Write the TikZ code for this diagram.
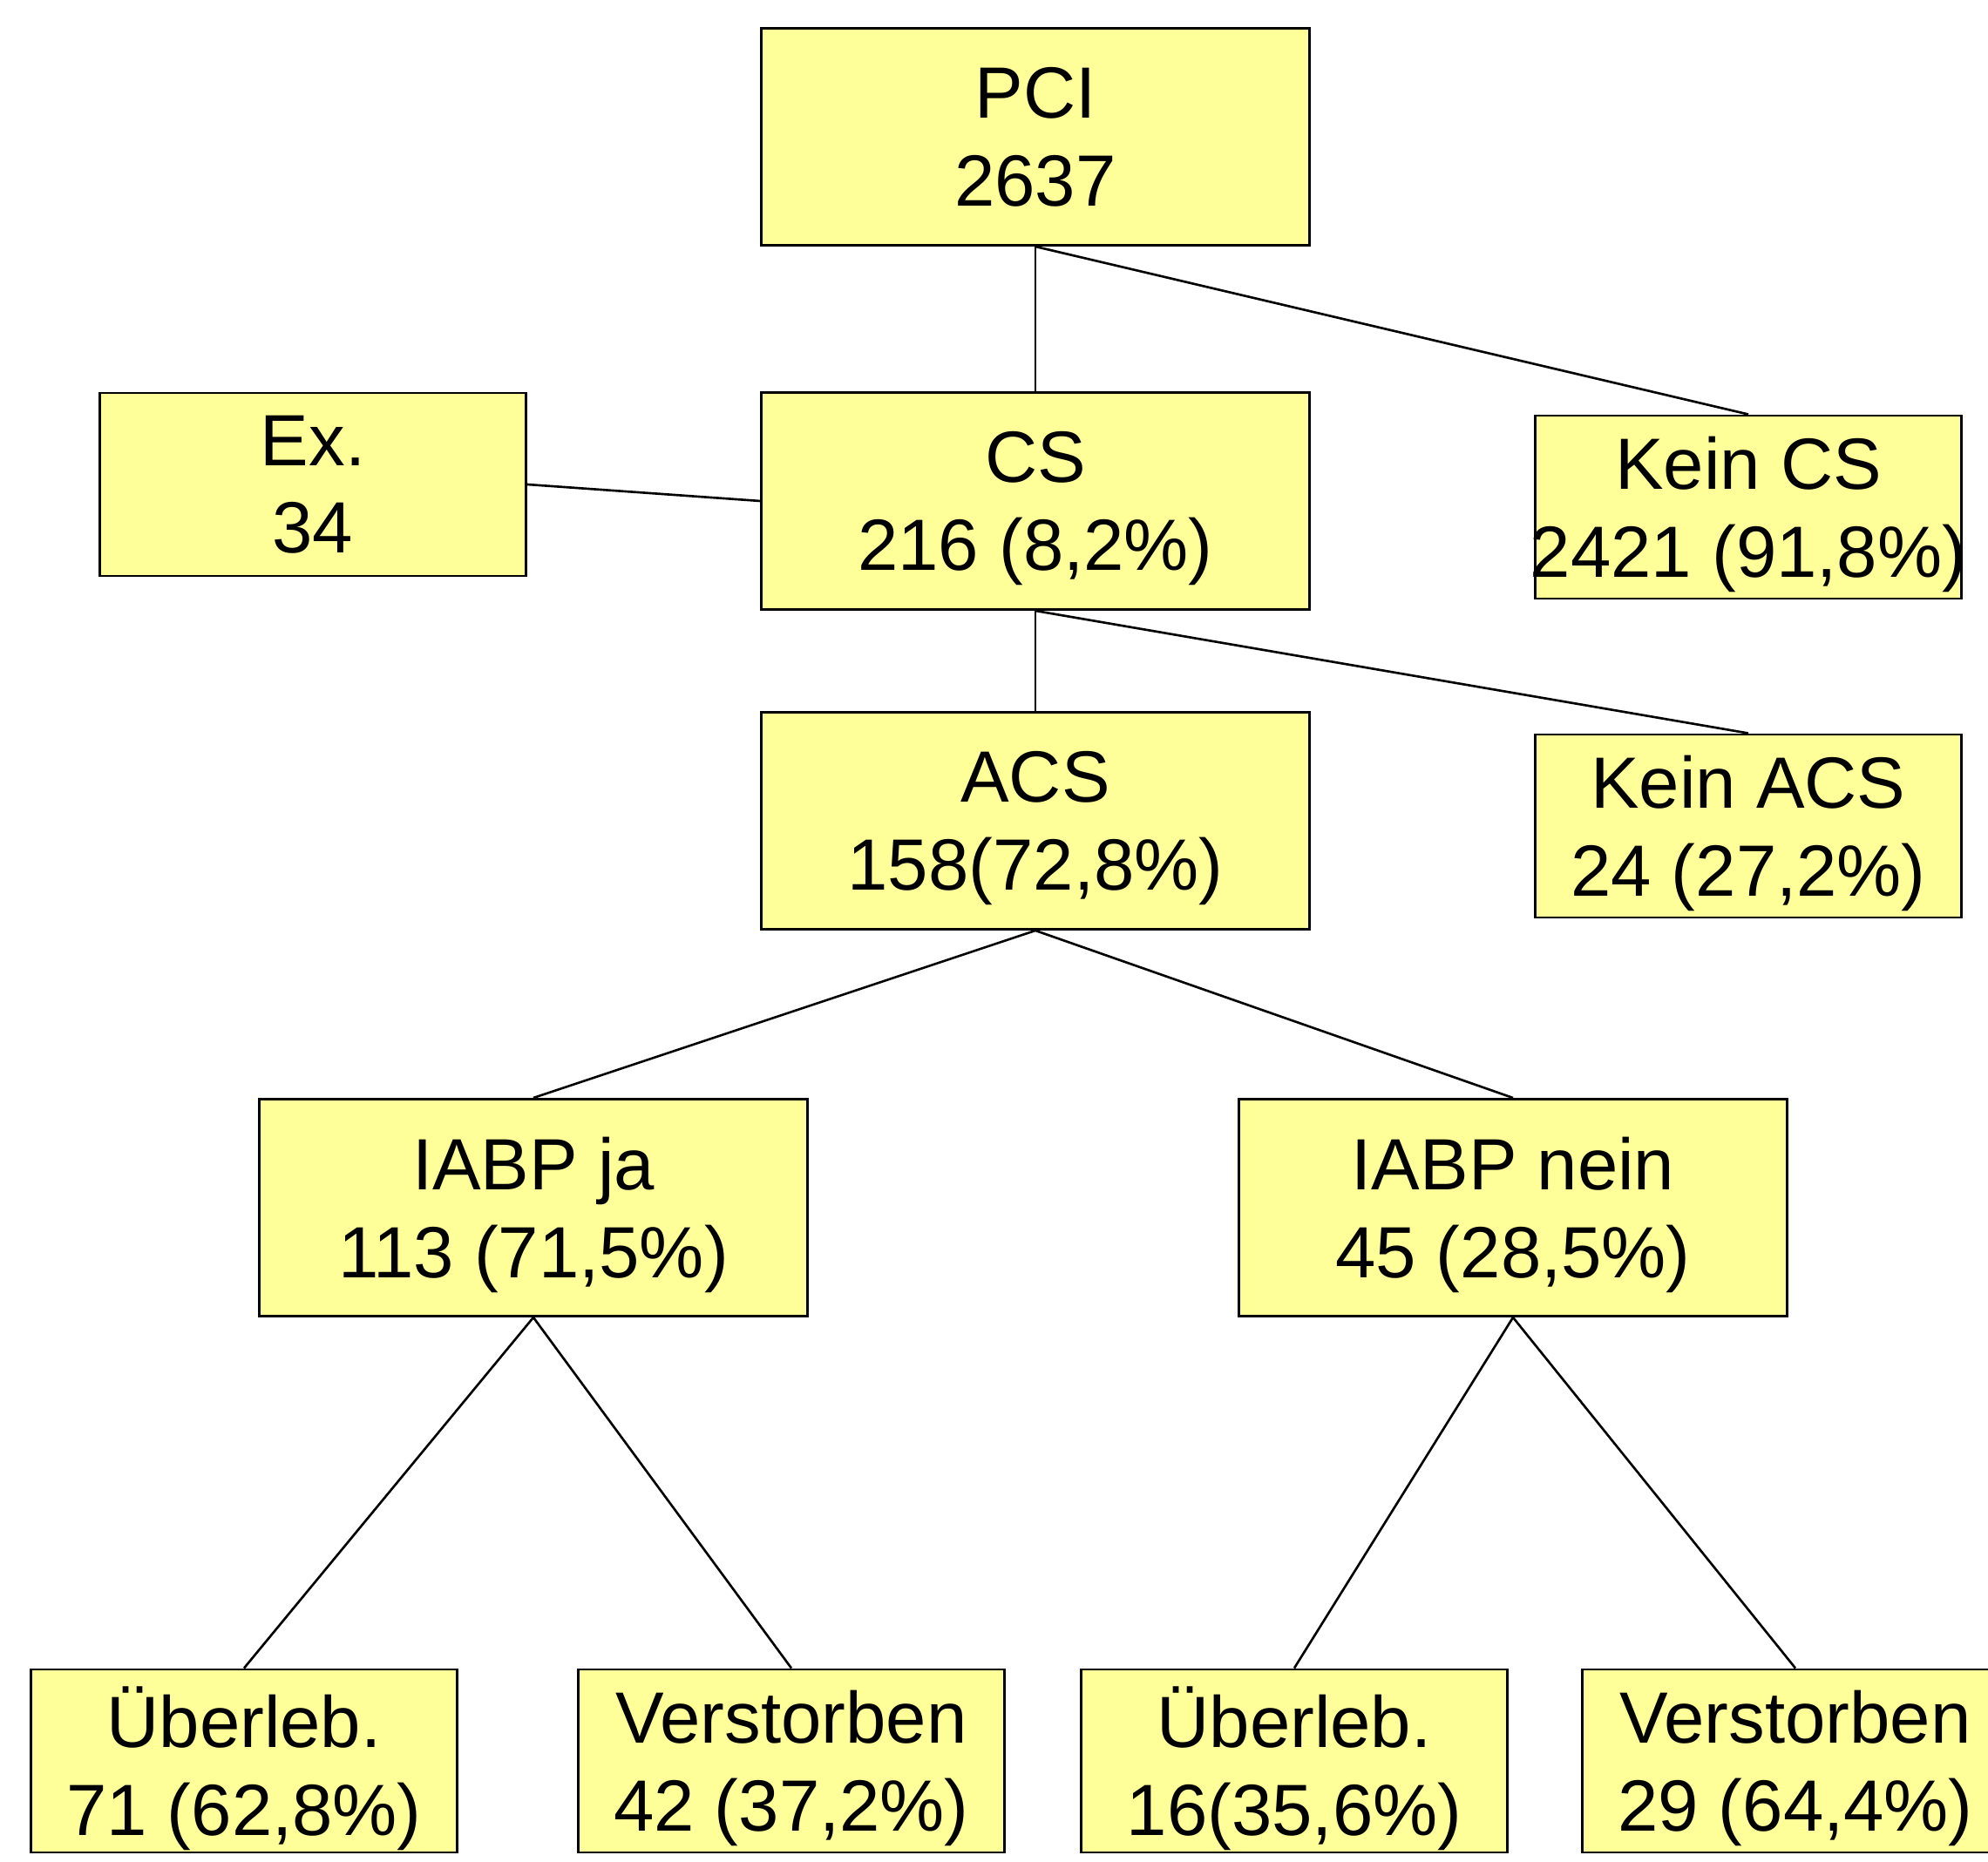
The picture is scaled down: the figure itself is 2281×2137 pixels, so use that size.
\documentclass[tikz,border=0pt]{standalone}
\usepackage{fontspec}
\setmainfont{Liberation Sans}
\definecolor{boxyellow}{HTML}{FFFF99}
\newcommand{\countline}[1]{\makebox[0pt]{\smash{#1}}}

\begin{document}
\begin{tikzpicture}[
  x=0.01cm, y=-0.01cm,
  font=\fontsize{23.7pt}{28.6pt}\selectfont,
  bigbox/.style={rectangle, draw, fill=boxyellow, line width=0.8pt, align=center, inner sep=0pt, minimum width=6.28cm, minimum height=2.49cm},
  smallbox/.style={rectangle, draw, fill=boxyellow, line width=0.8pt, align=center, inner sep=0pt, minimum width=4.89cm, minimum height=2.10cm},
  link/.style={line width=0.75pt}
]
\useasboundingbox (0,0) rectangle (2281,2137);

\node (pci)  [bigbox] at (1188,157) {PCI\\\countline{2637}};
\node (cs)   [bigbox] at (1188,575) {CS\\\countline{216 (8,2\%)}};
\node (acs)  [bigbox] at (1188,942) {ACS\\\countline{158(72,8\%)}};
\node (ex)   [smallbox] at (359,556)  {Ex.\\\countline{34}};
\node (kcs)  [smallbox] at (2006,582) {Kein CS\\\countline{2421 (91,8\%)}};
\node (kacs) [smallbox] at (2006,948) {Kein ACS\\\countline{24 (27,2\%)}};
\node (ja)   [bigbox] at (612,1386)  {IABP ja\\\countline{113 (71,5\%)}};
\node (nein) [bigbox] at (1736,1386) {IABP nein\\\countline{45 (28,5\%)}};
\node (ueja)   [smallbox] at (280,2021)  {Überleb.\\\countline{71 (62,8\%)}};
\node (vsja)   [smallbox] at (908,2021)  {Verstorben\\\countline{42 (37,2\%)}};
\node (uenein) [smallbox] at (1485,2021) {Überleb.\\\countline{16(35,6\%)}};
\node (vsnein) [smallbox] at (2060,2021) {Verstorben\\\countline{29 (64,4\%)}};

\draw [link] (pci.south) -- (cs.north);
\draw [link] (pci.south) -- (kcs.north);
\draw [link] (ex.east)   -- (cs.west);
\draw [link] (cs.south)  -- (acs.north);
\draw [link] (cs.south)  -- (kacs.north);
\draw [link] (acs.south) -- (ja.north);
\draw [link] (acs.south) -- (nein.north);
\draw [link] (ja.south)   -- (ueja.north);
\draw [link] (ja.south)   -- (vsja.north);
\draw [link] (nein.south) -- (uenein.north);
\draw [link] (nein.south) -- (vsnein.north);
\end{tikzpicture}
\end{document}
